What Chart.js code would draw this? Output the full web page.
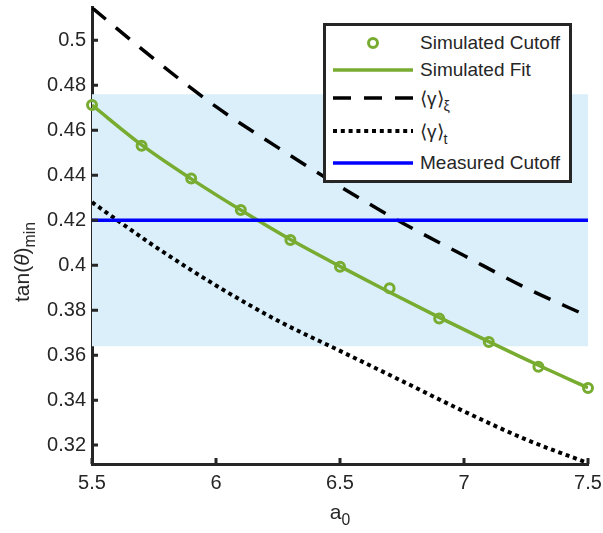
<!DOCTYPE html>
<html>
<head>
<meta charset="utf-8">
<script src="https://cdn.jsdelivr.net/npm/chart.js@4.4.1/dist/chart.umd.min.js"></script>
<style>
  body { margin: 0; background: #fff; font-family: "Liberation Sans", Arial, sans-serif; color: #262626; }
  #wrap { position: relative; width: 603px; height: 533px; }
  #legend { position: absolute; left: 323px; top: 23px; width: 243px; height: 151px;
            border: 3px solid #262626; background: #fff; padding-top: 3px; box-sizing: content-box; }
  .row { display: flex; align-items: center; font-size: 19px; white-space: nowrap; }
  .row svg { margin-left: 7px; margin-right: 7px; flex: none; }
  sub { font-size: 0.75em; vertical-align: -0.4em; line-height: 0; }
  .title { position: absolute; font-size: 21px; white-space: nowrap; line-height: 24px; }
  #ytitle { left: 22px; top: 262px; transform: translate(-50%, -50%) rotate(-90deg); }
  #xtitle { left: 340px; top: 500px; transform: translateX(-50%); }
</style>
</head>
<body>
<div id="wrap">
  <canvas id="chart"></canvas>
  <div id="legend"></div>
  <div class="title" id="ytitle">tan(<i>&theta;</i>)<sub>min</sub></div>
  <div class="title" id="xtitle">a<sub>0</sub></div>
</div>
<script>
// ------------------
// data
// ------------------
const aValues = [5.5, 5.7, 5.9, 6.1, 6.3, 6.5, 6.7, 6.9, 7.1, 7.3, 7.5];
const simCutoff = [0.4712, 0.4531, 0.4386, 0.4245, 0.4112, 0.3993, 0.3898, 0.3763, 0.3658, 0.3548, 0.3454];
const simFit = [0.4712, 0.4535, 0.4384, 0.4245, 0.4114, 0.3995, 0.3880, 0.3768, 0.3660, 0.3555, 0.3455];

const gammaA = [5.5, 5.75, 6.0, 6.25, 6.5, 6.75, 7.0, 7.25, 7.5];
const gammaXi = [0.5145, 0.4917, 0.4705, 0.4523, 0.4350, 0.4189, 0.4043, 0.3899, 0.3773];
const gammaT = [0.4280, 0.4086, 0.3910, 0.3753, 0.3619, 0.3485, 0.3350, 0.3225, 0.3120];

const edgeA = [5.5, 7.5];
const measured = [0.42, 0.42];
const bandLow = [0.364, 0.364];
const bandHigh = [0.476, 0.476];

const xTicks = [5.5, 6, 6.5, 7, 7.5];
const yTicks = [0.32, 0.34, 0.36, 0.38, 0.4, 0.42, 0.44, 0.46, 0.48, 0.5];

const legendLabels = [
  "Simulated Cutoff",
  "Simulated Fit",
  "&#10216;&gamma;&#10217;<sub>&xi;</sub>",
  "&#10216;&gamma;&#10217;<sub>t</sub>",
  "Measured Cutoff"
];

const pts = (xs, ys) => xs.map((x, i) => ({ x: x, y: ys[i] }));

// ------------------
// plugins
// ------------------
const AXIS = "#262626";

// MATLAB style ticks pointing into the plot
const innerTicks = {
  id: "innerTicks",
  afterDatasetsDraw(chart) {
    const { ctx, chartArea, scales } = chart;
    ctx.save();
    ctx.strokeStyle = AXIS;
    ctx.lineWidth = 3;
    ctx.beginPath();
    scales.x.ticks.forEach(t => {
      const px = scales.x.getPixelForValue(t.value);
      ctx.moveTo(px, chartArea.bottom);
      ctx.lineTo(px, chartArea.bottom - 6);
    });
    scales.y.ticks.forEach(t => {
      const py = scales.y.getPixelForValue(t.value);
      ctx.moveTo(chartArea.left, py);
      ctx.lineTo(chartArea.left + 6, py);
    });
    ctx.stroke();
    ctx.restore();
  }
};

const rowHeights = [28, 26, 30, 36, 28];

const htmlLegend = {
  id: "htmlLegend",
  afterUpdate(chart) {
    const box = document.getElementById("legend");
    box.innerHTML = "";
    chart.data.datasets.forEach(ds => {
      if (ds.legendIndex === undefined) return;
      const i = ds.legendIndex;
      let sym;
      if (ds.showLine === false) {
        sym = `<circle cx="40" cy="10" r="${ds.pointRadius}" fill="none" stroke="${ds.borderColor}" stroke-width="${ds.pointBorderWidth}"/>`;
      } else {
        const dash = ds.borderDash ? ds.borderDash.join(",") : "none";
        sym = `<line x1="0" y1="10" x2="80" y2="10" stroke="${ds.borderColor}" stroke-width="${ds.borderWidth}" stroke-dasharray="${dash}"/>`;
      }
      const row = document.createElement("div");
      row.className = "row";
      row.style.height = rowHeights[i] + "px";
      row.innerHTML = `<svg width="80" height="20">${sym}</svg><span>${legendLabels[i]}</span>`;
      box.appendChild(row);
    });
  }
};

// ------------------
// chart setup
// ------------------
const GREEN = "#77AC30";

new Chart(document.getElementById("chart"), {
  type: "line",
  data: {
    datasets: [
      {
        label: "Simulated Cutoff", legendIndex: 0,
        data: pts(aValues, simCutoff), showLine: false,
        borderColor: GREEN, backgroundColor: "rgba(0,0,0,0)",
        pointRadius: 4.5, pointBorderWidth: 3, borderWidth: 3,
        clip: false, order: 2
      },
      {
        label: "Simulated Fit", legendIndex: 1,
        data: pts(aValues, simFit),
        borderColor: GREEN, borderWidth: 3.5, pointRadius: 0,
        cubicInterpolationMode: "monotone", order: 3
      },
      {
        label: "gamma xi", legendIndex: 2,
        data: pts(gammaA, gammaXi),
        borderColor: "#000", borderWidth: 3.5, borderDash: [18, 13],
        pointRadius: 0, cubicInterpolationMode: "monotone", order: 4
      },
      {
        label: "gamma t", legendIndex: 3,
        data: pts(gammaA, gammaT),
        borderColor: "#000", borderWidth: 4, borderDash: [4, 3.8],
        pointRadius: 0, cubicInterpolationMode: "monotone", order: 5
      },
      {
        label: "Measured Cutoff", legendIndex: 4,
        data: pts(edgeA, measured),
        borderColor: "#0000FF", borderWidth: 3.5, pointRadius: 0, order: 1
      },
      {
        label: "band low",
        data: pts(edgeA, bandLow),
        borderWidth: 0, pointRadius: 0, order: 10
      },
      {
        label: "band high",
        data: pts(edgeA, bandHigh),
        borderWidth: 0, pointRadius: 0,
        fill: "-1", backgroundColor: "rgb(218, 239, 250)", order: 9
      }
    ]
  },
  options: {
    responsive: true,
    maintainAspectRatio: false,
    animation: false,
    layout: { padding: { top: 3, right: 15, left: 0, bottom: 0 } },
    plugins: { legend: { display: false }, tooltip: { enabled: false } },
    scales: {
      x: {
        type: "linear", min: 5.5, max: 7.5,
        afterBuildTicks: s => { s.ticks = xTicks.map(v => ({ value: v })); },
        afterFit: s => { s.height = 69; s.paddingLeft = 0; s.paddingRight = 0; },
        grid: { display: false, drawTicks: false },
        border: { display: true, color: AXIS, width: 3 },
        ticks: { color: AXIS, padding: 7, font: { family: "Liberation Sans", size: 20 },
                 callback: v => String(v) }
      },
      y: {
        type: "linear", min: 0.3116, max: 0.5146,
        afterBuildTicks: s => { s.ticks = yTicks.map(v => ({ value: v })); },
        afterFit: s => { s.width = 92; s.paddingTop = 0; s.paddingBottom = 0; },
        grid: { display: false, drawTicks: false },
        border: { display: true, color: AXIS, width: 3 },
        ticks: { color: AXIS, padding: 6, font: { family: "Liberation Sans", size: 20 },
                 callback: v => String(Math.round(v * 100) / 100) }
      }
    }
  },
  plugins: [innerTicks, htmlLegend]
});
</script>
</body>
</html>
